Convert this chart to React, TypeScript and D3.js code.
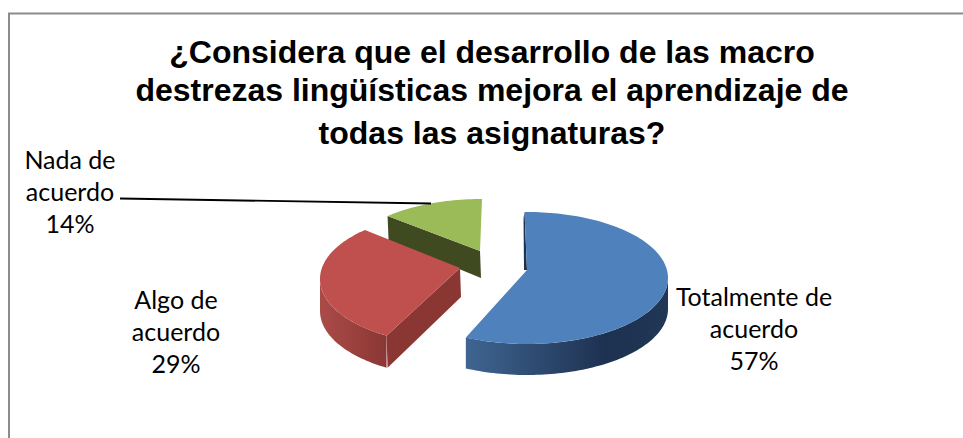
import React from "react";
import * as d3 from "d3";

const categories = ["Totalmente de acuerdo", "Algo de acuerdo", "Nada de acuerdo"];
const values = [57.14, 28.57, 14.29];
const colors = ["#4f81bd", "#c0504d", "#9bbb59"];
const titleLines = [
  "¿Considera que el desarrollo de las macro",
  "destrezas lingüísticas mejora el aprendizaje de",
  "todas las asignaturas?",
];
const labelLines = [["Totalmente de", "acuerdo", "57%"], ["Algo de", "acuerdo", "29%"], ["Nada de", "acuerdo", "14%"]];

const W = 963, H = 438;
const DEG = Math.PI / 180;
// perspective warp of the pie angle
const warp = d3.scaleLinear().domain([0, 205.7, 308.6, 360].map(d => d * DEG)).range([-1, 205.7, 318, 360].map(d => d * DEG));
const geo = [
  { cx: 527, cy: 278, rx: 141, ry: 66, ax: 527, ay: 270, shift: 0, depth: 31 },
  { cx: 456, cy: 279, rx: 136, ry: 66, ax: 460, ay: 268, shift: 5, depth: 32 },
  { cx: 482, cy: 265, rx: 141, ry: 66, ax: 480, ay: 251, shift: 0, depth: 27 },
];
const labelPos = [{ x: 754, y: 306 }, { x: 176, y: 309 }, { x: 70, y: 169 }];

const arcs = d3.pie<number>().sort(null)(values);
const line = d3.line<[number, number]>();

function pt(g: typeof geo[0], t: number): [number, number] {
  return [g.cx + g.rx * Math.sin(t), g.cy - g.ry * Math.cos(t)];
}
function samples(a: number, b: number): number[] {
  const n = Math.max(2, Math.ceil(Math.abs(b - a) / (1.5 * DEG)));
  return d3.range(n + 1).map(i => a + ((b - a) * i) / n);
}

export default function App() {
  const slices = arcs.map((a, i) => {
    const g = geo[i];
    const t0 = warp(a.startAngle) + g.shift * DEG, t1 = warp(a.endAngle);
    const rim = samples(t0, t1).map(t => pt(g, t));
    const top = line([[g.ax, g.ay], ...rim])! + "Z";
    const w0 = Math.max(t0, 90 * DEG), w1 = Math.min(t1, 270 * DEG);
    const wallPts = w1 > w0 ? samples(w0, w1).map(t => pt(g, t)) : [];
    const wall = wallPts.length
      ? line([...wallPts, ...wallPts.slice().reverse().map(p => [p[0], p[1] + g.depth] as [number, number])])! + "Z"
      : null;
    return { g, t0, t1, rim, top, wall };
  });
  const [blue, red, green] = slices;
  const cutFace = (p: [number, number], g: typeof geo[0], d0: number, d1: number) =>
    line([p, [g.ax, g.ay], [g.ax + 1, g.ay + d1], [p[0] + 1, p[1] + d0]])! + "Z";
  return (
    <svg width={W} height={H} style={{ position: "absolute", left: 0, top: 0, background: "#fff" }}>
      <defs>
        <linearGradient id="bw" x1="0" x2="1" y1="0" y2="0">
          <stop offset="0" stopColor="#3f6592" />
          <stop offset="0.7" stopColor="#1d3150" />
          <stop offset="1" stopColor="#203755" />
        </linearGradient>
        <linearGradient id="rw" x1="0" x2="1" y1="0" y2="0">
          <stop offset="0" stopColor="#ab4b48" />
          <stop offset="1" stopColor="#8a3735" />
        </linearGradient>
      </defs>
      <path d={`M9 438V13.5H${W}`} fill="none" stroke="#8c8c8c" strokeWidth={2} />
      {titleLines.map((t, i) => (
        <text key={t} x={492} y={[63, 101, 144][i]} textAnchor="middle" fontFamily="'Liberation Sans'" fontWeight="bold" fontSize={32} fill="#000">{t}</text>
      ))}
      <path d={cutFace(green.rim[0], green.g, 24, 27)} fill="#3f4a20" />
      <path d={green.top} fill={colors[2]} />
      <path d={red.wall!} fill="url(#rw)" />
      <path d={cutFace(red.rim[0], red.g, 32, 29)} fill="#8a3633" />
      <path d={red.top} fill={colors[1]} />
      <path d={blue.wall!} fill="url(#bw)" />
      <path d={line([blue.rim[0], [blue.g.ax, blue.g.ay], [blue.g.ax - 3, blue.g.ay], [blue.rim[0][0] - 1, blue.rim[0][1] + 6]])! + "Z"} fill="#1d3150" />
      <path d={blue.top} fill={colors[0]} />
      <line x1={120} y1={198.5} x2={431} y2={203.5} stroke="#000" strokeWidth={1.9} />
      {labelLines.map((ls, i) => (
        <text key={categories[i]} textAnchor="middle" fontFamily="Lato" fontSize={25} fill="#000">
          {ls.map((l, j) => (
            <tspan key={j} x={labelPos[i].x} y={labelPos[i].y + j * 32}>{l}</tspan>
          ))}
        </text>
      ))}
    </svg>
  );
}
